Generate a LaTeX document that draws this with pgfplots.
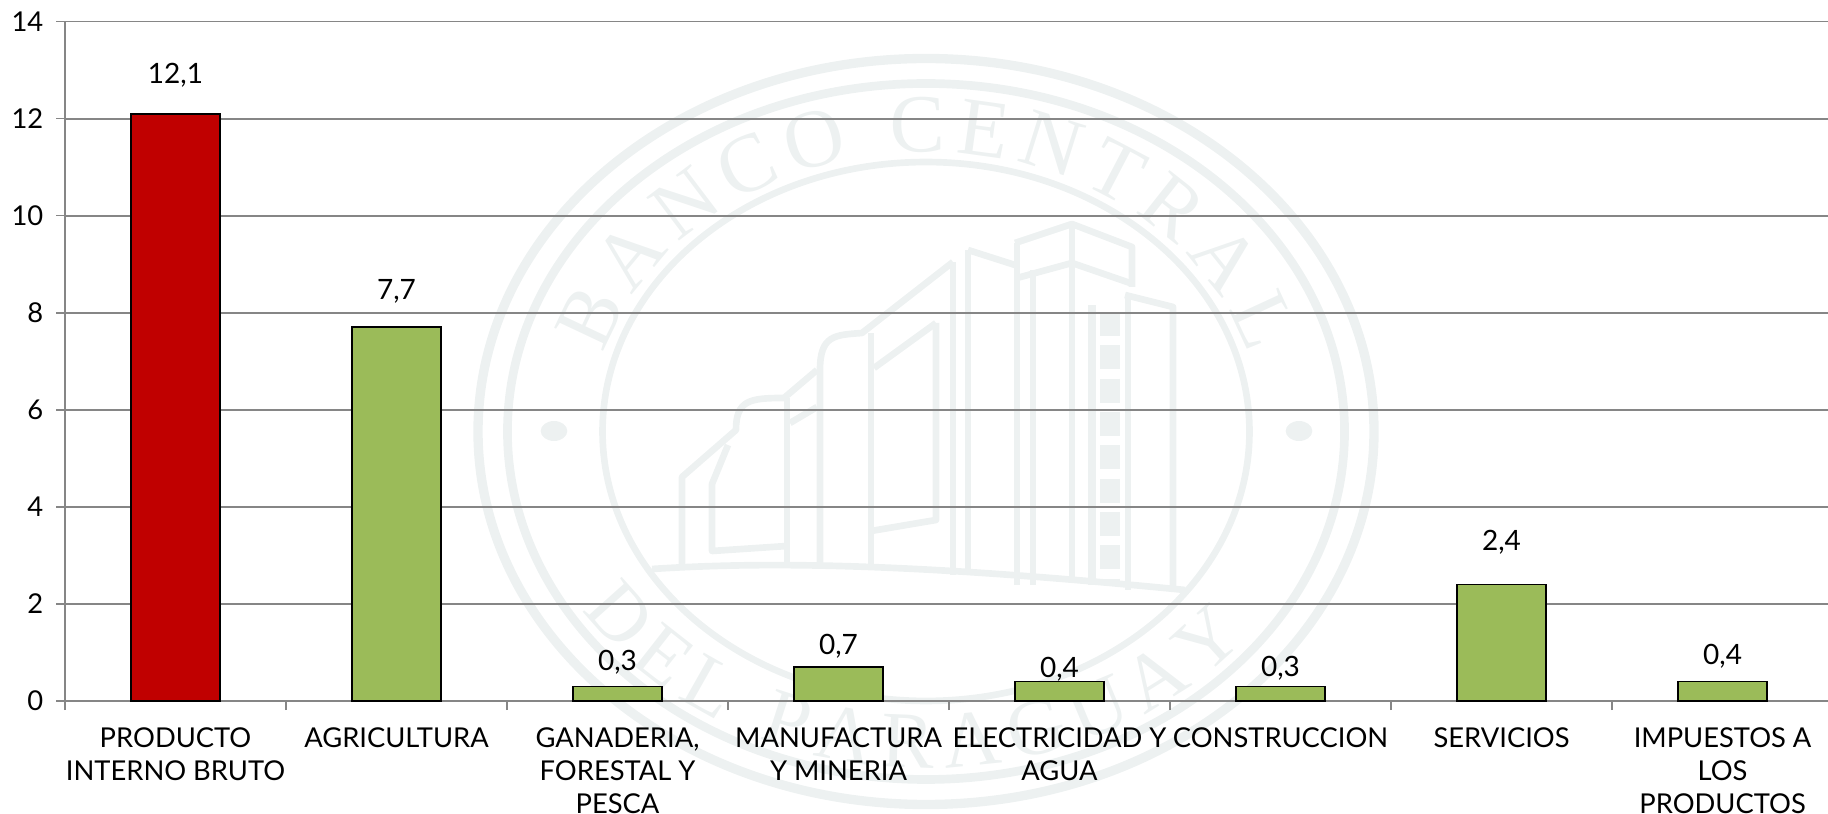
\documentclass[border=0pt]{standalone}
\usepackage{fontspec}
\setmainfont{Lato}
\newfontfamily\sealfont{Liberation Serif}
\usepackage{pgfplots}
\pgfplotsset{compat=1.18}
\usetikzlibrary{decorations.text}
\definecolor{wm}{HTML}{EDF1F1}
\definecolor{gridc}{HTML}{868686}
\definecolor{redbar}{HTML}{C00000}
\definecolor{greenbar}{HTML}{9BBB59}
\begin{document}
\begin{tikzpicture}[x=0.75pt,y=0.75pt]
\useasboundingbox (0,0) rectangle (1828,814);
% watermark seal
\draw[wm,line width=7pt] (926,382.5) ellipse [x radius=336pt,y radius=279.75pt];
\draw[wm,line width=6.5pt] (926,382.5) ellipse [x radius=313.9pt,y radius=261pt];
\draw[wm,line width=5pt] (926,382.5) ellipse [x radius=242.6pt,y radius=202.1pt];
\fill[wm] (554,383) ellipse [x radius=10pt,y radius=7.5pt];
\fill[wm] (1299,383) ellipse [x radius=10pt,y radius=7.5pt];
\path[decorate,decoration={text along path,text align={fit to path},
  text={|\sealfont\fontsize{62}{62}\selectfont\color{wm}|BANCO CENTRAL}}]
  ({926+335*cos(164)},{382.5+279.5*sin(164)}) arc [start angle=164,end angle=16,x radius=251.25pt,y radius=209.6pt];
\path[decorate,decoration={text along path,text align={fit to path},
  text={|\sealfont\fontsize{60}{60}\selectfont\color{wm}|DEL PARAGUAY}}]
  ({926+405*cos(212)},{382.5+336.5*sin(212)}) arc [start angle=212,end angle=322,x radius=303.75pt,y radius=252.4pt];
\begin{scope}[shift={(0,814)},yscale=-1,wm,line width=5pt,line join=round]
\draw (1015,243)--(1072,224)--(1132,247)--(1132,287);
\draw (1017,278)--(1072,263)--(1130,283);
\draw (1072,224)--(1072,580);
\draw (1017,243)--(1017,585);
\draw (1033,270)--(1033,585);
\draw (968,250)--(1015,265);
\draw (968,250)--(968,575);
\draw (953,262)--(862,333) .. controls (835,335) and (820,335) .. (820,370)--(820,566);
\draw (953,262)--(953,575);
\draw (936,323)--(874,368);
\draw (936,323)--(936,520)--(871,531);
\draw (871,333)--(871,566);
\draw (1125,295)--(1173,307)--(1173,590);
\draw (1128,295)--(1128,590);
\draw (817,370)--(784,398) .. controls (750,398) and (736,400) .. (736,430)--(682,477)--(682,564);
\draw (817,407)--(790,423);
\draw (728,445)--(712,484)--(712,551)--(787,546);
\draw (787,398)--(787,562);
\draw (652,569) .. controls (760,562) and (900,562) .. (1185,590);
\draw[line width=6.5pt] (1092,305)--(1092,585);
\draw[line width=15pt,dash pattern=on 18pt off 7pt] (1110,312)--(1110,585);
\end{scope}
\pgfplotstableread{
x y off
0 12.1 38
}\redtab
\pgfplotstableread{
x y off
1 7.7 35.5
2 0.3 24
3 0.7 20.5
4 0.4 12
5 0.3 18
6 2.4 42.5
7 0.4 25
}\greentab
\begin{axis}[
  at={(48.75pt,84.75pt)},anchor=south west,
  scale only axis,width=1322.25pt,height=509.6pt,
  xmin=-0.5,xmax=7.477,ymin=0,ymax=14,
  axis x line=bottom,axis y line=left,
  axis line style={-,gridc,line width=1.4pt},
  ytick={0,2,...,14},
  xtick={-0.5,0.5,1.5,2.5,3.5,4.5,5.5,6.5},
  xticklabels={},
  extra x ticks={0,...,7},
  extra x tick labels={{PRODUCTO\\INTERNO BRUTO},{AGRICULTURA},{GANADERIA,\\FORESTAL Y\\PESCA},{MANUFACTURA\\Y MINERIA},{ELECTRICIDAD Y\\AGUA},{CONSTRUCCION},{SERVICIOS},{IMPUESTOS A\\LOS\\PRODUCTOS}},
  extra x tick style={tick style={draw=none},grid=none},
  ymajorgrids,
  grid style={gridc,line width=1.4pt},
  tick align=outside,
  major tick length=6.75pt,
  tick style={gridc,line width=1.2pt},
  /pgf/number format/assume math mode=true,
  tick label style={font=\fontsize{20.5}{25}\selectfont,black},
  x tick label style={align=center,anchor=north,yshift=-9.5pt},
  y tick label style={xshift=-6pt},
  clip=false,
  ybar,
  bar width=66.75pt,
  bar shift=0pt,
  point meta=y,
  visualization depends on={\thisrow{off} \as \off},
  nodes near coords={\pgfmathprintnumber[fixed,fixed zerofill,precision=1,use comma,assume math mode=true]{\pgfplotspointmeta}},
  nodes near coords style={font=\fontsize{21}{25}\selectfont,black,anchor=center,yshift=\off*0.75},
]
\addplot[draw=black,line width=1.2pt,fill=redbar] table[x=x,y=y] {\redtab};
\addplot[draw=black,line width=1.2pt,fill=greenbar] table[x=x,y=y] {\greentab};
\end{axis}
\end{tikzpicture}
\end{document}
